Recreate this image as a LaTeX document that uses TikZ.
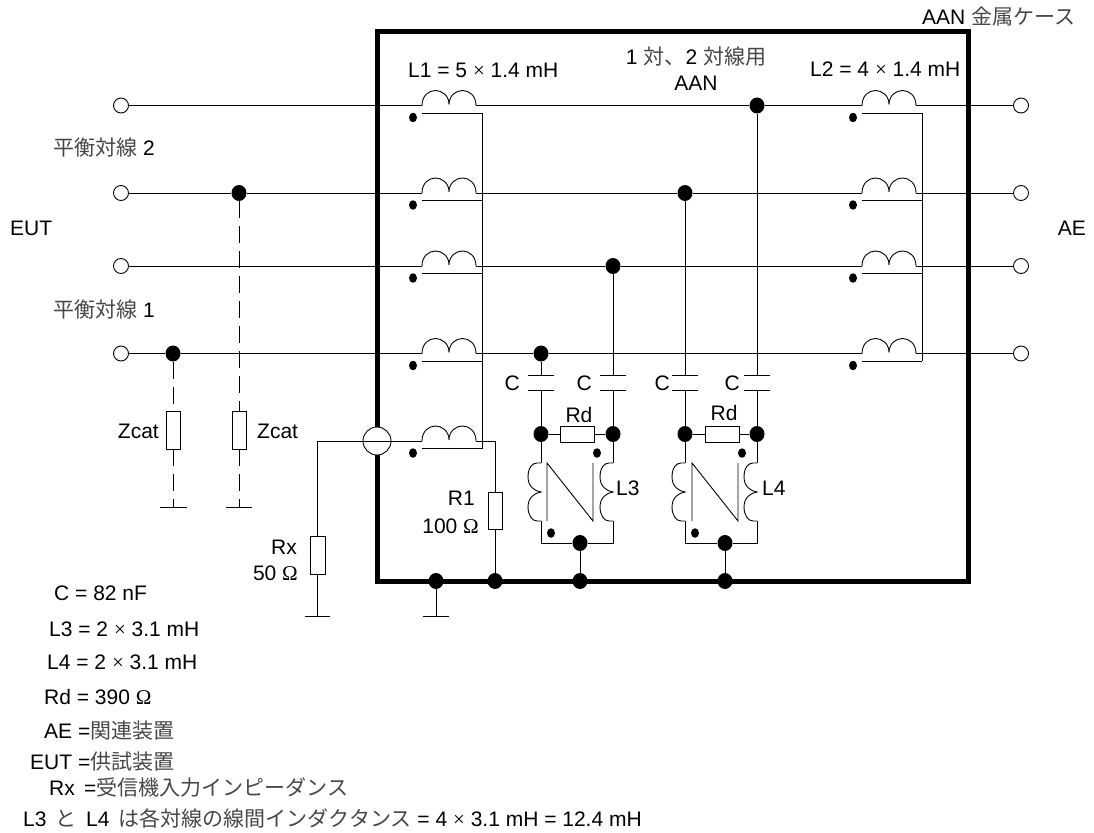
\documentclass[tikz,border=0pt]{standalone}
\usepackage{fontspec}
\setmainfont{Liberation Sans}
\newfontfamily\cjk{Noto Sans CJK JP}
\newfontfamily\symf{Liberation Serif}
\newcommand{\jp}[1]{{\color{black!72}\cjk #1}}
\newcommand{\ohm}{{\symf Ω}}
\newcommand{\tms}{{\symf ×}}
\usetikzlibrary{shapes.geometric}
\tikzset{
  wire/.style={line width=0.9pt,black},
  dashwire/.style={line width=0.9pt,black,dash pattern=on 17pt off 8pt},
  frame/.style={line width=5pt,black,line join=miter},
  term/.style={circle,draw,line width=0.9pt,fill=white,minimum size=15pt,inner sep=0pt},
  jdot/.style={ellipse,fill=black,minimum width=15pt,minimum height=16pt,inner sep=0pt},
  pdot/.style={ellipse,fill=black,minimum width=8pt,minimum height=9.5pt,inner sep=0pt},
  res/.style={rectangle,draw,line width=0.9pt,fill=white,inner sep=0pt},
  vres/.style={res,minimum width=14pt,minimum height=38pt},
  hres/.style={res,minimum width=34pt,minimum height=16pt},
  lbl/.style={inner sep=0pt,font=\fontsize{21}{24}\selectfont},
}
% horizontal inductor with polarity winding: name, x, y, end x of return line
\newcommand{\hind}[4]{%
  \coordinate (#1in) at (#2,#3);
  \coordinate (#1out) at (#2+54,#3);
  \coordinate (#1ret) at (#2+#4,#3+7.5);
  \draw[wire,shift={(#2,#3)}] (0,0) .. controls (0,-10) and (7,-15) .. (13.5,-15)
     .. controls (20,-15) and (27,-10) .. (27,-1)
     .. controls (27,-10) and (34,-15) .. (40.5,-15)
     .. controls (47,-15) and (54,-10) .. (54,0);
  \draw[wire] (#2,#3+7.5) -- (#1ret);
  \node[pdot] (#1dot) at (#2-9,#3+12) {};
}
% vertical inductor: name, x, y(top)
\newcommand{\vind}[3]{%
  \coordinate (#1top) at (#2,#3);
  \coordinate (#1bot) at (#2,#3+58);
  \draw[wire,shift={(#2,#3)}] (0,0) -- (-4,0) .. controls (-9,0) and (-13,5) .. (-13,14)
     .. controls (-13,23) and (-7,28) .. (0,29)
     .. controls (-7,30) and (-13,35) .. (-13,44)
     .. controls (-13,52) and (-9,58) .. (-4,58) -- (0,58);
}
\begin{document}
\begin{tikzpicture}[x=1pt,y=-1pt]
\useasboundingbox (0,0) rectangle (1094,832);
% metal case
\node[inner sep=0pt,minimum width=0pt] (caseA) at (377,32) {};
\node[inner sep=0pt] (caseB) at (968,581) {};
\draw[frame] (caseA) rectangle (caseB);
% coax clamp
\node[term,minimum size=28pt] (coax) at (377,441) {};
% terminals
\foreach \n/\y in {1/105.5,2/193,3/266,4/353.5}{
  \node[term] (tl\n) at (121,\y) {};
  \node[term] (tr\n) at (1021,\y) {};
}
% junctions
\node[jdot] (jz1) at (173,353.5) {};
\node[jdot] (jz2) at (239,193) {};
\node[jdot] (jc1) at (541,353.5) {};
\node[jdot] (jc2) at (613,266) {};
\node[jdot] (jc3) at (685,193) {};
\node[jdot] (jc4) at (757,105.5) {};
\node[jdot] (jb1) at (541,434) {};
\node[jdot] (jb2) at (613,434) {};
\node[jdot] (jb3) at (685,434) {};
\node[jdot] (jb4) at (757,434) {};
\node[jdot] (jm1) at (580,543) {};
\node[jdot] (jm2) at (725,543) {};
\node[jdot] (jf0) at (436,581) {};
\node[jdot] (jf1) at (495,581) {};
\node[jdot] (jf2) at (580,581) {};
\node[jdot] (jf3) at (725,581) {};
% left inductors
\hind{a}{422}{105.5}{60}
\hind{b}{422}{193}{60}
\hind{c}{422}{266}{60}
\hind{d}{422}{353.5}{60}
\hind{e}{422}{441}{60}
% right inductors
\hind{f}{862}{105.5}{60}
\hind{g}{862}{193}{60}
\hind{h}{862}{266}{60}
\hind{i}{862}{353.5}{60}
% common returns
\draw[wire] (aret) -- (eret);
\draw[wire] (fret) -- (iret);
% lines
\draw[wire] (tl1) -- (ain) (aout) -- (jc4) -- (fin) (fout) -- (tr1);
\draw[wire] (tl2) -- (jz2) -- (bin) (bout) -- (jc3) -- (gin) (gout) -- (tr2);
\draw[wire] (tl3) -- (cin) (cout) -- (jc2) -- (hin) (hout) -- (tr3);
\draw[wire] (tl4) -- (jz1) -- (din) (dout) -- (jc1) -- (iin) (iout) -- (tr4);
% Zcat branches
\node[vres] (rz1) at (173,430) {};
\node[vres] (rz2) at (239,430) {};
\coordinate (gz1) at (173,507);
\coordinate (gz2) at (239,507);
\draw[dashwire] (jz1) -- (rz1);
\draw[dashwire] (rz1) -- (gz1);
\draw[dashwire] (jz2) -- (rz2);
\draw[dashwire] (rz2) -- (gz2);
\draw[wire] (160,507) -- (187,507) (226,507) -- (252,507);
% Rx
\coordinate (rxc) at (317.5,441);
\node[vres,minimum width=15pt] (rx) at (317.5,555) {};
\coordinate (grx) at (317.5,616);
\draw[wire] (ein) -- (rxc) -- (rx);
\draw[wire] (rx) -- (grx);
\draw[wire] (305,616) -- (330,616);
% R1
\coordinate (r1c) at (495,441);
\node[res,minimum width=14pt,minimum height=37pt] (r1) at (495,511) {};
\draw[wire] (eout) -- (r1c) -- (r1);
\draw[wire] (r1) -- (jf1);
% case earth
\coordinate (g0) at (436,616);
\draw[wire] (jf0) -- (g0);
\draw[wire] (423,616) -- (449,616);
% capacitors
\foreach \jt/\jb/\x in {jc1/jb1/541,jc2/jb2/613,jc3/jb3/685,jc4/jb4/757}{
  \draw[wire] (\jt) -- (\x,375);
  \draw[wire] (\x-13,375) -- (\x+13,375);
  \draw[wire] (\x-13,390) -- (\x+13,390);
  \draw[wire] (\x,390) -- (\jb);
}
% damping resistors
\node[hres] (rd1) at (577.5,434) {};
\node[hres] (rd2) at (722,434) {};
\draw[wire] (jb1) -- (rd1) -- (jb2);
\draw[wire] (jb3) -- (rd2) -- (jb4);
% L3, L4
\vind{p}{541}{463}
\vind{q}{613}{463}
\vind{r}{685}{463}
\vind{s}{757}{463}
\draw[wire] (jb1) -- (ptop) (jb2) -- (qtop) (jb3) -- (rtop) (jb4) -- (stop);
\draw[wire] (pbot) -- (541,543) -- (jm1) -- (613,543) -- (qbot);
\draw[wire] (rbot) -- (685,543) -- (jm2) -- (757,543) -- (sbot);
\draw[wire] (547,521) -- (547,463) -- (593,521) -- (593,463);
\draw[wire] (692,521) -- (692,463) -- (738,521) -- (738,463);
\node[pdot] (n1) at (551,533) {};
\node[pdot] (n2) at (597,453) {};
\node[pdot] (n3) at (695,533) {};
\node[pdot] (n4) at (742,453) {};
\draw[wire] (jm1) -- (jf2);
\draw[wire] (jm2) -- (jf3);
% labels
\node[lbl,anchor=west] (t1) at (922,17) {AAN \jp{金属ケース}};
\node[lbl] (t2) at (696,57) {1 \jp{対、}2 \jp{対線用}};
\node[lbl] (t3) at (696,83) {AAN};
\node[lbl,anchor=west] (t4) at (408,70) {L1 = 5 \tms{} 1.4 mH};
\node[lbl,anchor=west] (t5) at (810,69) {L2 = 4 \tms{} 1.4 mH};
\node[lbl,anchor=west] (t6) at (53,148) {\jp{平衡対線} 2};
\node[lbl,anchor=west] (t7) at (10,228) {EUT};
\node[lbl,anchor=east] (t8) at (1086,228) {AE};
\node[lbl,anchor=west] (t9) at (53,310) {\jp{平衡対線} 1};
\node[lbl,anchor=east] (t10) at (159,431) {Zcat};
\node[lbl,anchor=west] (t11) at (257,431) {Zcat};
\node[lbl,anchor=east] (t12) at (297,547) {Rx};
\node[lbl,anchor=east] (t13) at (298,573) {50 \ohm};
\node[lbl,anchor=east] (t14) at (475,498) {R1};
\node[lbl,anchor=east] (t15) at (479,526) {100 \ohm};
\node[lbl,anchor=east] (t16) at (520,383) {C};
\node[lbl,anchor=east] (t17) at (592,383) {C};
\node[lbl,anchor=east] (t18) at (670,383) {C};
\node[lbl,anchor=east] (t19) at (740,383) {C};
\node[lbl] (t20) at (579,415) {Rd};
\node[lbl] (t21) at (724,413) {Rd};
\node[lbl,anchor=west] (t22) at (616,488) {L3};
\node[lbl,anchor=west] (t23) at (762,488) {L4};
\node[lbl,anchor=west] (t24) at (54,593) {C = 82 nF};
\node[lbl,anchor=west] (t25) at (49,629) {L3 = 2 \tms{} 3.1 mH};
\node[lbl,anchor=west] (t26) at (47,662) {L4 = 2 \tms{} 3.1 mH};
\node[lbl,anchor=west] (t27) at (44,697) {Rd = 390 \ohm};
\node[lbl,anchor=west] (t28) at (44,731) {AE =\jp{関連装置}};
\node[lbl,anchor=west] (t29) at (30,762) {EUT =\jp{供試装置}};
\node[lbl,anchor=west] (t30) at (49,787) {Rx \,=\jp{受信機入力インピーダンス}};
\node[lbl,anchor=west] (t31) at (23,818) {L3 \,\jp{と}\, L4 \,\jp{は各対線の線間インダクタンス} = 4 \tms{} 3.1 mH = 12.4 mH};
\end{tikzpicture}
\end{document}
